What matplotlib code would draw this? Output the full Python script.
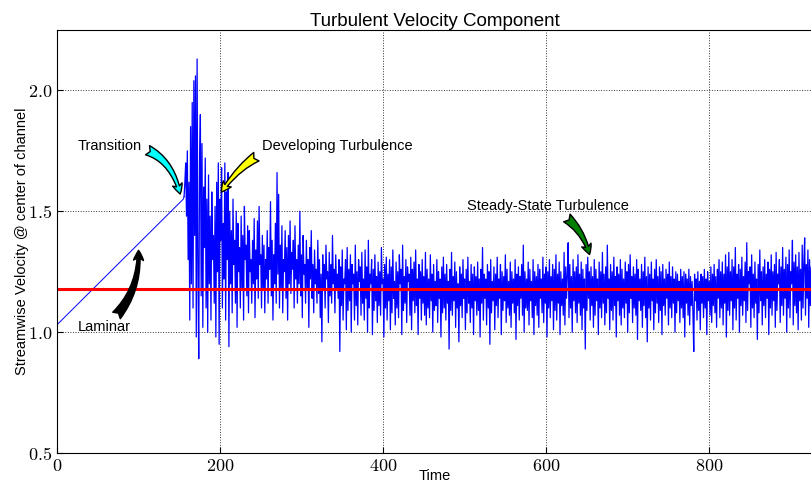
import matplotlib
matplotlib.use("Agg")
import matplotlib.pyplot as plt
import numpy as np
from matplotlib.ticker import FuncFormatter

plt.rcParams['font.family'] = ['Liberation Sans', 'DejaVu Sans']
plt.rcParams['mathtext.fontset'] = 'cm'

# --- data ---
# laminar ramp
time_lam = [0, 155]
vel_lam = [1.03, 1.55]

# turbulent part, one sample per time unit from t=156
time_turb = np.arange(156, 936)
vel_turb = [
    1.56, 1.62, 1.70, 1.48, 1.75, 1.30, 1.62, 1.05, 1.85, 1.20,
    1.95, 1.10, 2.04, 1.40, 2.06, 0.98, 2.13, 1.25, 0.89, 1.70,
    1.90, 1.15, 1.78, 1.02, 1.60, 1.35, 1.72, 1.10, 1.55, 1.00,
    1.65, 1.20, 1.48, 1.05, 1.58, 1.30, 1.40, 1.12, 1.52, 0.98,
    1.62, 1.25, 1.70, 0.95, 1.55, 1.38, 1.68, 1.10, 1.45, 1.22,
    1.70, 1.05, 1.58, 1.30, 1.66, 0.94, 1.50, 1.20, 1.42, 1.08,
    1.55, 1.28, 1.38, 1.12, 1.50, 1.02, 1.45, 1.25, 1.35, 1.10,
    1.48, 1.18, 1.40, 1.05, 1.52, 1.30, 1.36, 1.15, 1.44, 1.08,
    1.42, 1.25, 1.30, 1.12, 1.38, 1.20, 1.47, 1.06, 1.34, 1.22,
    1.46, 1.14, 1.52, 1.28, 1.32, 1.10, 1.40, 1.18, 1.36, 1.08,
    1.30, 1.22, 1.42, 1.12, 1.35, 1.26, 1.54, 1.15, 1.38, 1.05,
    1.32, 1.20, 1.45, 1.12, 1.66, 1.24, 1.57, 1.10, 1.36, 1.18,
    1.44, 1.08, 1.30, 1.25, 1.42, 1.14, 1.35, 1.05, 1.40, 1.20,
    1.46, 1.16, 1.33, 1.26, 1.38, 1.10, 1.44, 1.22, 1.30, 1.12,
    1.36, 1.20, 1.50, 1.15, 1.32, 1.06, 1.40, 1.24, 1.28, 1.12,
    1.38, 1.18, 1.30, 1.02, 1.35, 1.22, 1.42, 1.14, 1.28, 1.08,
    1.34, 1.20, 1.26, 1.12, 1.38, 1.16, 1.30, 1.06, 1.24, 0.96,
    1.32, 1.18, 1.28, 1.10, 1.36, 1.22, 1.25, 1.04, 1.33, 1.15,
    1.28, 1.12, 1.40, 1.20, 1.26, 1.08, 1.32, 1.18, 1.24, 1.14,
    1.30, 0.92, 1.27, 1.11, 1.34, 1.05, 1.22, 1.20, 1.30, 1.01,
    1.35, 1.09, 1.26, 1.13, 1.32, 1.00, 1.28, 1.20, 1.24, 1.05,
    1.36, 1.11, 1.25, 1.03, 1.30, 1.21, 1.27, 1.07, 1.33, 1.12,
    1.22, 1.05, 1.34, 1.14, 1.27, 1.00, 1.38, 1.10, 1.24, 1.20,
    1.30, 0.99, 1.26, 1.09, 1.32, 1.13, 1.23, 1.04, 1.29, 1.11,
    1.25, 1.07, 1.35, 1.20, 1.22, 0.98, 1.28, 1.10, 1.31, 1.05,
    1.24, 1.13, 1.30, 1.01, 1.27, 1.08, 1.34, 1.14, 1.21, 1.03,
    1.29, 1.10, 1.25, 1.06, 1.32, 1.20, 1.26, 0.99, 1.36, 1.09,
    1.23, 1.12, 1.30, 1.04, 1.27, 1.21, 1.24, 1.07, 1.31, 1.01,
    1.26, 1.13, 1.29, 1.08, 1.34, 1.11, 1.22, 0.99, 1.28, 1.14,
    1.25, 1.05, 1.30, 1.12, 1.23, 1.07, 1.33, 1.03, 1.26, 1.10,
    1.22, 1.06, 1.32, 1.13, 1.24, 1.00, 1.28, 1.09, 1.21, 1.11,
    1.30, 1.04, 1.25, 1.14, 1.22, 0.98, 1.27, 1.08, 1.31, 1.10,
    1.24, 1.05, 1.28, 1.12, 1.21, 0.93, 1.26, 1.09, 1.33, 1.07,
    1.23, 1.13, 1.29, 1.02, 1.25, 1.10, 1.20, 0.96, 1.27, 1.11,
    1.24, 1.06, 1.30, 1.14, 1.22, 1.01, 1.26, 1.08, 1.31, 1.12,
    1.21, 1.04, 1.28, 1.10, 1.24, 0.99, 1.27, 1.13, 1.23, 1.07,
    1.29, 1.09, 1.22, 0.98, 1.26, 1.12, 1.35, 1.05, 1.24, 1.14,
    1.22, 1.03, 1.28, 1.10, 1.25, 0.95, 1.30, 1.08, 1.21, 1.13,
    1.27, 1.01, 1.24, 1.11, 1.31, 1.06, 1.22, 1.14, 1.28, 0.99,
    1.25, 1.09, 1.23, 1.13, 1.32, 1.04, 1.26, 1.10, 1.21, 1.07,
    1.29, 1.02, 1.25, 1.12, 1.22, 1.08, 1.30, 0.97, 1.24, 1.11,
    1.27, 1.05, 1.23, 1.14, 1.28, 1.07, 1.36, 1.00, 1.25, 1.10,
    1.22, 1.09, 1.29, 1.03, 1.26, 1.13, 1.21, 1.06, 1.30, 0.99,
    1.25, 1.11, 1.23, 1.07, 1.28, 1.02, 1.26, 1.14, 1.22, 1.08,
    1.31, 1.04, 1.24, 1.12, 1.27, 0.98, 1.25, 1.10, 1.30, 1.06,
    1.23, 1.13, 1.28, 1.01, 1.26, 1.09, 1.32, 1.05, 1.24, 1.12,
    1.29, 0.99, 1.25, 1.11, 1.22, 1.07, 1.33, 1.03, 1.27, 1.14,
    1.24, 1.37, 1.06, 1.28, 1.10, 1.23, 1.00, 1.30, 1.13, 1.25,
    1.08, 1.27, 1.04, 1.32, 1.12, 1.24, 1.07, 1.29, 1.01, 1.26,
    1.10, 1.22, 0.93, 1.28, 1.09, 1.31, 1.14, 1.25, 1.05, 1.27,
    1.11, 1.23, 1.02, 1.30, 1.07, 1.26, 1.13, 1.22, 0.99, 1.29,
    1.10, 1.25, 1.06, 1.33, 1.12, 1.24, 1.03, 1.27, 1.08, 1.36,
    1.14, 1.22, 1.01, 1.28, 1.09, 1.25, 1.05, 1.31, 1.11, 1.23,
    0.98, 1.27, 1.13, 1.24, 1.07, 1.30, 1.03, 1.26, 1.10, 1.22,
    1.06, 1.29, 1.12, 1.25, 1.00, 1.28, 1.08, 1.32, 1.14, 1.23,
    1.04, 1.27, 1.10, 1.24, 1.07, 1.30, 0.97, 1.26, 1.13, 1.22,
    1.09, 1.28, 1.02, 1.25, 1.11, 1.31, 1.06, 1.23, 0.96, 1.27,
    1.10, 1.24, 1.05, 1.29, 1.13, 1.22, 1.01, 1.26, 1.08, 1.30,
    1.12, 1.23, 1.04, 1.27, 1.09, 1.25, 0.99, 1.28, 1.11, 1.22,
    1.07, 1.26, 1.14, 1.24, 1.03, 1.29, 1.10, 1.23, 1.06, 1.27,
    1.12, 1.22, 1.00, 1.25, 1.08, 1.24, 1.13, 1.21, 1.04, 1.26,
    1.10, 1.23, 1.06, 1.25, 0.98, 1.24, 1.12, 1.22, 1.07, 1.26,
    1.03, 1.23, 1.11, 1.21, 1.08, 0.92, 1.24, 1.13, 1.22, 1.05,
    1.25, 1.09, 1.21, 1.01, 1.24, 1.12, 1.23, 1.06, 1.26, 1.10,
    1.22, 0.99, 1.25, 1.13, 1.21, 1.07, 1.27, 1.04, 1.24, 1.11,
    1.28, 1.08, 1.23, 1.02, 1.26, 1.14, 1.30, 1.06, 1.25, 1.10,
    1.29, 1.03, 1.24, 1.12, 1.32, 0.98, 1.27, 1.09, 1.33, 1.07,
    1.25, 1.13, 1.30, 1.01, 1.27, 1.10, 1.35, 1.05, 1.24, 1.14,
    1.28, 1.00, 1.26, 1.11, 1.31, 1.07, 1.23, 1.13, 1.29, 1.04,
    1.37, 1.09, 1.25, 1.20, 1.27, 1.02, 1.32, 1.10, 1.24, 1.06,
    1.29, 1.12, 1.22, 0.97, 1.28, 1.08, 1.34, 1.13, 1.25, 1.03,
    1.27, 1.11, 1.30, 1.06, 1.24, 1.14, 1.29, 0.99, 1.26, 1.10,
    1.32, 1.07, 1.25, 1.13, 1.28, 1.02, 1.33, 1.09, 1.24, 1.20,
    1.30, 1.04, 1.27, 1.11, 1.35, 1.07, 1.26, 1.14, 1.31, 1.00,
    1.28, 1.10, 1.34, 1.06, 1.25, 1.20, 1.38, 1.03, 1.29, 1.11,
    1.32, 1.08, 1.27, 1.01, 1.33, 1.13, 1.26, 1.05, 1.36, 1.10,
    1.29, 1.39, 1.07, 1.28, 1.14, 1.34, 1.02, 1.30, 1.11, 1.27,
    1.09, 1.33, 1.13, 1.26, 1.05, 1.31, 1.12, 1.28, 1.07, 1.30,
]
mean_vel = 1.18

fig = plt.figure(figsize=(8.12, 4.83), dpi=100)
ax = fig.add_axes([0.070, 0.062, 0.930, 0.876])

ax.plot(time_lam + [time_turb[0]], vel_lam + [vel_turb[0]], color='blue', lw=0.7)
ax.plot(time_turb, vel_turb, color='blue', lw=0.9)
ax.axhline(mean_vel, color='red', lw=2.2)

ax.set_xlim(0, 926)
ax.set_ylim(0.5, 2.25)
ax.set_xticks([0, 200, 400, 600, 800])
ax.set_yticks([0.5, 1.0, 1.5, 2.0])
ax.xaxis.set_major_formatter(FuncFormatter(lambda v, p: f'${v:.0f}$'))
ax.yaxis.set_major_formatter(FuncFormatter(lambda v, p: f'${v:.1f}$'))
ax.tick_params(direction='in', labelsize=13, length=4)
ax.grid(True, color='black', linestyle=':', lw=0.7, alpha=0.8)
ax.spines['right'].set_visible(False)

ax.set_title('Turbulent Velocity Component', fontsize=13.5, pad=3)
ax.set_xlabel('Time', fontsize=10.5, labelpad=-4)
ax.set_ylabel('Streamwise Velocity @ center of channel', fontsize=10.5, labelpad=-1)

# --- annotations with fancy arrows ---
ann = [
    ('Transition', (152, 1.56), (26, 1.77), 'cyan', -0.45),
    ('Developing Turbulence', (200, 1.57), (251, 1.77), 'yellow', 0.35),
    ('Steady-State Turbulence', (654, 1.31), (503, 1.52), 'green', -0.25),
    ('Laminar', (100, 1.35), (26, 1.02), 'black', 0.25),
]
for label, xy, xytext, col, rad in ann:
    ax.annotate(label, xy=xy, xytext=xytext, fontsize=10.5,
                ha='left', va='center',
                arrowprops=dict(arrowstyle='fancy', fc=col, ec='black',
                                mutation_scale=18,
                                connectionstyle=f'arc3,rad={rad}'))

fig.savefig('out.png', dpi=100)
